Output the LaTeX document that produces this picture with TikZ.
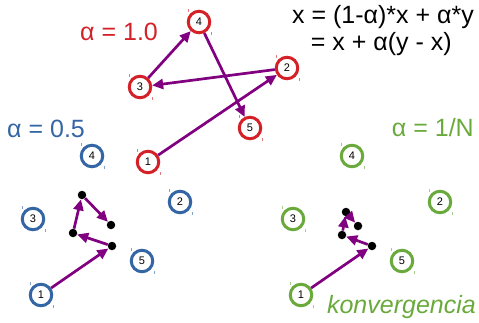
\documentclass[tikz,border=0pt]{standalone}
\usepackage{fontspec}
\setmainfont{Liberation Sans}
\usetikzlibrary{arrows.meta,calc}
\definecolor{cred}{HTML}{D42128}
\definecolor{cblue}{HTML}{3465A4}
\definecolor{cgreen}{HTML}{6AAA3C}
\definecolor{cpurp}{HTML}{800080}
\begin{document}
\begin{tikzpicture}[x=1pt,y=-1pt,
  pt/.style={circle,draw=#1,line width=3pt,minimum size=21.5pt,inner sep=0pt,fill=white,font=\fontsize{11}{11}\selectfont},
  dot/.style={circle,fill=black,minimum size=8.5pt,inner sep=0pt},
  arr/.style={draw=cpurp,line width=2.7pt,-{Triangle[length=11pt,width=10pt]}},
  big/.style={font=\fontsize{25}{25}\selectfont,inner sep=0pt}]
\useasboundingbox (0,0) rectangle (479,322);
% red set
\node[pt=cred] (r1) at (148,162) {1};
\node[pt=cred] (r2) at (287,68) {2};
\node[pt=cred] (r3) at (140,87) {3};
\node[pt=cred] (r4) at (199,22) {4};
\node[pt=cred] (r5) at (250,128) {5};
\draw[arr] (r1) -- (r2);
\draw[arr] (r2) -- (r3);
\draw[arr] (r3) -- (r4);
\draw[arr] (r4) -- (r5);
% blue set
\node[pt=cblue] (b1) at (41,295) {1};
\node[pt=cblue] (b2) at (180,202) {2};
\node[pt=cblue] (b3) at (33,219) {3};
\node[pt=cblue] (b4) at (92,156) {4};
\node[pt=cblue] (b5) at (142,261) {5};
\node[dot] (bd1) at (112,246) {};
\node[dot] (bd2) at (73,233) {};
\node[dot] (bd3) at (82,195) {};
\node[dot] (bd4) at (111,225) {};
\draw[arr] (b1) -- (bd1);
\draw[arr] (bd1) -- (bd2);
\draw[arr] (bd2) -- (bd3);
\draw[arr] (bd3) -- (bd4);
% green set
\node[pt=cgreen] (g1) at (301,295) {1};
\node[pt=cgreen] (g2) at (440,202) {2};
\node[pt=cgreen] (g3) at (293,219) {3};
\node[pt=cgreen] (g4) at (352,156) {4};
\node[pt=cgreen] (g5) at (402,261) {5};
\node[dot] (gd1) at (372,246) {};
\node[dot] (gd2) at (342,235) {};
\node[dot] (gd3) at (346,212) {};
\node[dot] (gd4) at (358,226) {};
\draw[arr] (g1) -- (gd1);
\draw[arr] (gd1) -- (gd2);
\draw[arr] (gd2) -- (gd3);
\draw[arr] (gd3) -- (gd4);
% tick marks
\foreach \n/\c in {r1/cred,r2/cred,r3/cred,r4/cred,r5/cred,b1/cblue,b2/cblue,b3/cblue,b4/cblue,b5/cblue,g1/cgreen,g2/cgreen,g3/cgreen,g4/cgreen,g5/cgreen}{
  \draw[\c!60,line width=0.8pt] ($(\n.center)+(-11,-13)$) -- ++(0,3);
  \draw[\c!60,line width=0.8pt] ($(\n.center)+(12,10)$) -- ++(0,3);
}
% labels
\node[big,text=cred,anchor=west] (la) at (80,32) {α = 1.0};
\node[big,text=cblue,anchor=west] (lb) at (7,129) {α = 0.5};
\node[big,text=cgreen,anchor=east] (lc) at (474,128) {α = 1/N};
\node[big,anchor=east] (f1) at (474,17) {x = (1-α)*x + α*y};
\node[big,anchor=east] (f2) at (452,44) {= x + α(y - x)};
\node[big,text=cgreen,anchor=east,font=\fontsize{25}{25}\selectfont\itshape] (kv) at (476,307) {konvergencia};
\end{tikzpicture}
\end{document}
